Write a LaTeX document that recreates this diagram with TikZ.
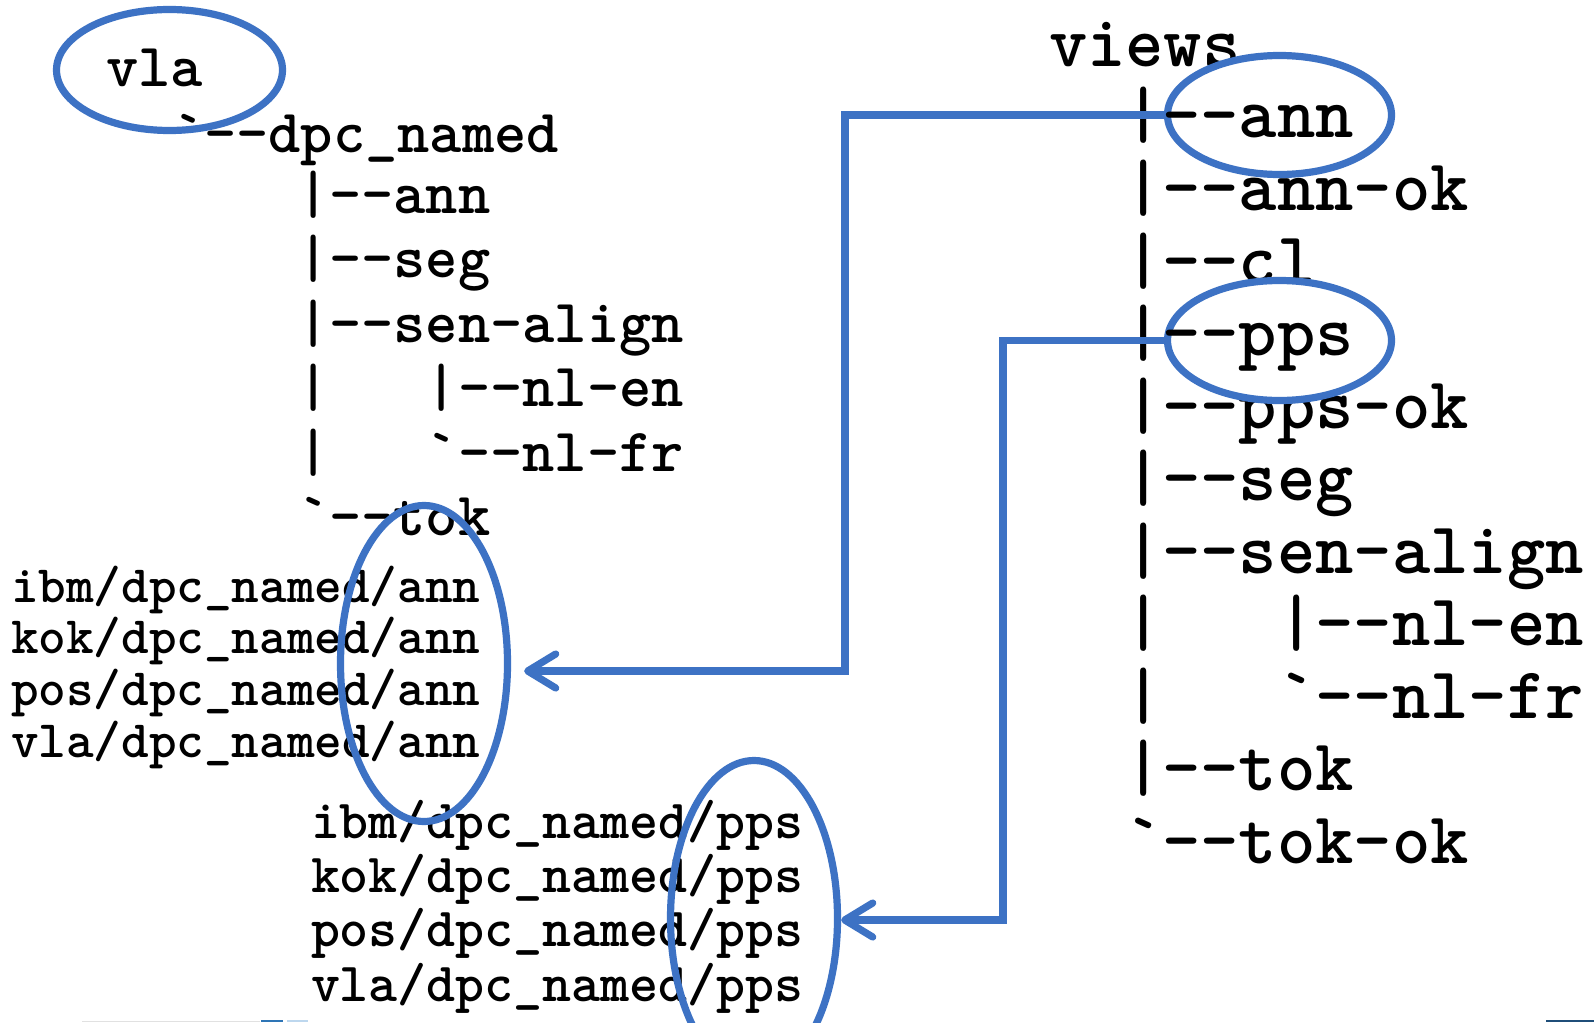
\documentclass[tikz,border=0pt]{standalone}
\usepackage{fontspec}
\usetikzlibrary{shapes.geometric,arrows.meta,calc}
\definecolor{hlblue}{RGB}{61,114,196}
\definecolor{bardark}{RGB}{31,78,121}
\definecolor{barmid}{RGB}{46,117,182}
\definecolor{barlight}{RGB}{189,215,238}
\definecolor{barline}{RGB}{225,225,225}
\begin{document}
\begin{tikzpicture}[x=0.5pt,y=-0.5pt,
  treeL/.style={anchor=base west,inner sep=0pt,outer sep=0pt,font=\ttfamily\bfseries\fontsize{30.7pt}{30.7pt}\selectfont},
  treeR/.style={anchor=base west,inner sep=0pt,outer sep=0pt,font=\ttfamily\bfseries\fontsize{36.5pt}{36.5pt}\selectfont},
  listA/.style={anchor=base west,inner sep=0pt,outer sep=0pt,font=\ttfamily\bfseries\fontsize{26.3pt}{26.3pt}\selectfont},
  listP/.style={anchor=base west,inner sep=0pt,outer sep=0pt,font=\ttfamily\bfseries\fontsize{27.6pt}{27.6pt}\selectfont},
  ring/.style={ellipse,draw=hlblue,line width=3.6pt,inner sep=0pt},
  conn/.style={draw=hlblue,line width=3.6pt,-{Straight Barb[length=14pt,width=17pt,round]}}
]
\useasboundingbox (0,0) rectangle (1594,1022);
\fill[white] (0,0) rectangle (1594,1022);
\clip (0,0) rectangle (1594,1022);

% ---- left tree ----
\node[treeL] (lvla) at (106,87) {vla};
\node[treeL] (ldpc) at (172,152) {`--dpc\_named};
\node[treeL] (lann) at (297,213) {|--ann};
\node[treeL] (lseg) at (297,277.5) {|--seg};
\node[treeL] (lsen) at (297,342) {|--sen-align};
\node[treeL] (lnlen) at (297,406.5) {|\phantom{xxx}|--nl-en};
\node[treeL] (lnlfr) at (297,471) {|\phantom{xxx}`--nl-fr};
\node[treeL] (ltok) at (297,535.5) {`--tok};

% ---- ann list ----
\node[listA] (a1) at (11,602.5) {ibm/dpc\_named/ann};
\node[listA] (a2) at (11,653.6) {kok/dpc\_named/ann};
\node[listA] (a3) at (11,705.4) {pos/dpc\_named/ann};
\node[listA] (a4) at (11,757.2) {vla/dpc\_named/ann};

% ---- pps list ----
\node[listP] (p1) at (311,838.5) {ibm/dpc\_named/pps};
\node[listP] (p2) at (311,892) {kok/dpc\_named/pps};
\node[listP] (p3) at (311,946) {pos/dpc\_named/pps};
\node[listP] (p4) at (311,1001) {vla/dpc\_named/pps};

% ---- right tree ----
\node[treeR] (rviews) at (1049,67) {views};
\node[treeR] (rannok) at (1124,210.5) {|--ann-ok};
\node[treeR] (rcl) at (1124,283) {|--cl};
\node[treeR] (rppsok) at (1124,428) {|--pps-ok};
\node[treeR] (rseg) at (1124,500.5) {|--seg};
\node[treeR] (rsen) at (1124,573) {|--sen-align};
\node[treeR] (rnlen) at (1124,645.5) {|\phantom{xxx}|--nl-en};
\node[treeR] (rnlfr) at (1124,718) {|\phantom{xxx}`--nl-fr};
\node[treeR] (rtok) at (1124,790.5) {|--tok};
\node[treeR] (rtokok) at (1124,863) {`--tok-ok};

% filled highlight rings on the right
\node[ring,fill=white,minimum width=112pt,minimum height=59.5pt] (annR) at (1279.5,115) {};
\node[ring,fill=white,minimum width=112pt,minimum height=60pt] (ppsR) at (1279.5,340.5) {};
\node[treeR] (rann) at (1124,138) {|--ann};
\node[treeR] (rpps) at (1124,355.5) {|--pps};

% open rings on the left
\node[ring,minimum width=113pt,minimum height=60.5pt] (vlaR) at (169.5,70) {};
\node[ring,minimum width=83.5pt,minimum height=158pt] (annL) at (424,663.5) {};
\node[ring,minimum width=83.5pt,minimum height=158pt] (ppsL) at (754,918.5) {};

% connectors
\coordinate (annBend) at (845,671);
\coordinate (ppsBend) at (1003,920);
\draw[conn] (annR.west) -| (annBend) -- ([xshift=6.5pt]annL.east |- annBend);
\draw[conn] (ppsR.west) -| (ppsBend) -- (ppsL.east |- ppsBend);

% slide remnants at the bottom edge
\fill[barline] (82,1020.5) rectangle (260,1022);
\fill[barmid] (261,1020) rectangle (283,1022);
\fill[barlight] (287,1020) rectangle (308,1022);
\fill[bardark] (1546,1020) rectangle (1594,1022);
\end{tikzpicture}
\end{document}
